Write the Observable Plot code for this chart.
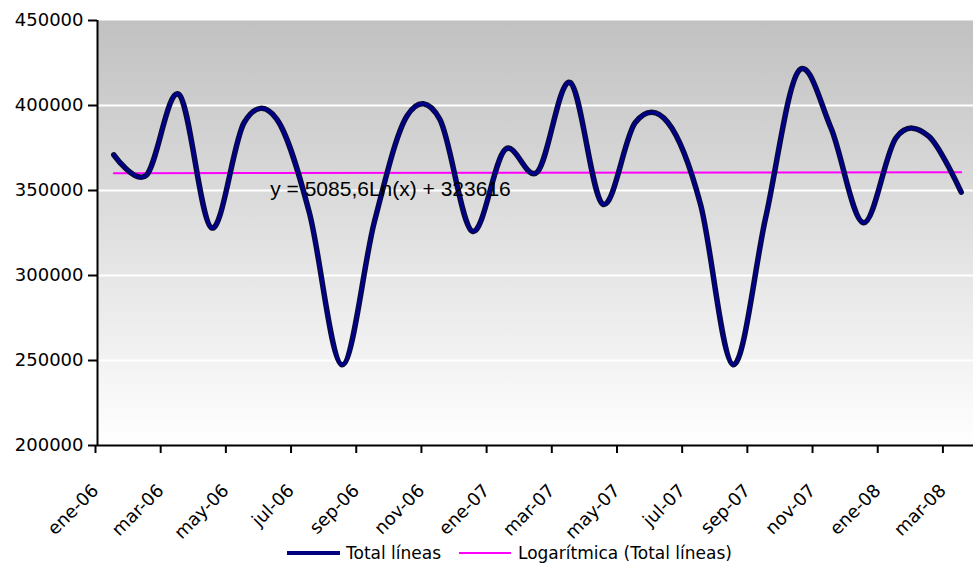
<!DOCTYPE html>
<html><head><meta charset="utf-8">
<script src="https://cdn.jsdelivr.net/npm/d3@7"></script>
<script src="https://cdn.jsdelivr.net/npm/@observablehq/plot@0.6"></script>
<style>
body{margin:0;background:#fff;font-family:"DejaVu Sans",sans-serif;}
#chart{position:relative;width:973px;height:572px;overflow:hidden}
#chart svg{display:block;overflow:visible}
.lg{position:absolute;font-size:17px;color:#000;line-height:20px;white-space:nowrap}
.sw{position:absolute}
</style></head><body>
<div id="chart"></div>
<script>
// ---- data ----
const months = ["ene-06","feb-06","mar-06","abr-06","may-06","jun-06","jul-06","ago-06","sep-06","oct-06","nov-06","dic-06",
  "ene-07","feb-07","mar-07","abr-07","may-07","jun-07","jul-07","ago-07","sep-07","oct-07","nov-07","dic-07",
  "ene-08","feb-08","mar-08"];
const totalLineas = [371000,359000,406500,328000,390000,392000,337000,247500,332000,394000,392000,326000,
  374000,361000,413500,342000,390000,390000,342000,247500,334000,420000,387000,331000,
  381000,382000,349000];
const trendValues = [360200, 360700]; // Logarítmica (Total líneas), first and last month
const tickLabels = ["ene-06","mar-06","may-06","jul-06","sep-06","nov-06","ene-07","mar-07","may-07","jul-07","sep-07","nov-07","ene-08","mar-08"];
const yTicks = [200000,250000,300000,350000,400000,450000];
const seriesNames = ["Total líneas","Logarítmica (Total líneas)"];
const equation = "y = 5085,6Ln(x) + 323616";

// ---- build ----
const data = months.map((m, i) => ({pos: i + 0.5, month: m, value: totalLineas[i]}));
const trend = [{pos: 0.5, value: trendValues[0]}, {pos: months.length - 0.5, value: trendValues[1]}];
const xTicks = tickLabels.map(t => months.indexOf(t));

const bgDefs = () => {
  const defs = d3.create("svg:defs");
  const g = defs.append("linearGradient").attr("id", "plotBg")
    .attr("x1", 0).attr("y1", 0).attr("x2", 0).attr("y2", 1);
  g.append("stop").attr("offset", "0%").attr("stop-color", "#c1c1c1");
  g.append("stop").attr("offset", "100%").attr("stop-color", "#ffffff");
  return defs.node();
};

const plot = Plot.plot({
  width: 973, height: 548,
  marginTop: 20, marginBottom: 103, marginLeft: 97, marginRight: -4,
  style: {fontFamily: "DejaVu Sans", fontSize: "18px", color: "#000", background: "transparent"},
  x: {type: "linear", domain: [0, months.length]},
  y: {domain: [200000, 450000]},
  marks: [
    bgDefs,
    Plot.frame({fill: "url(#plotBg)", stroke: null}),
    Plot.gridY(yTicks.slice(1, -1), {stroke: "#fff", strokeOpacity: 1, strokeWidth: 2}),
    Plot.axisY(yTicks, {tickSize: 9, tickPadding: 5, tickFormat: d => String(d), label: null, strokeWidth: 2, fontSize: 18}),
    Plot.axisX(xTicks, {tickSize: 8, tickPadding: 34, tickRotate: -45, tickFormat: d => months[d], label: null, strokeWidth: 2, fontSize: 18, dx: -2}),
    Plot.ruleX([0], {stroke: "#000", strokeWidth: 2}),
    Plot.ruleY([200000], {stroke: "#000", strokeWidth: 2}),
    Plot.line(trend, {x: "pos", y: "value", stroke: "#ff00ff", strokeWidth: 2}),
    Plot.line(data, {x: "pos", y: "value", curve: "cardinal", tension: 0, stroke: "#0a0a3a", strokeWidth: 5.5}),
    Plot.line(data, {x: "pos", y: "value", curve: "cardinal", tension: 0, stroke: "#000090", strokeWidth: 2.8}),
    Plot.text([equation], {x: 5.3, y: 351000, text: d => d, textAnchor: "start", fontFamily: "Liberation Sans, Arial", fontSize: 21, fill: "#000"})
  ]
});

const chart = document.getElementById("chart");
chart.appendChild(plot);

// legend (placed below the tick labels)
function add(html, css, cls) { const e = document.createElement("div"); e.className = cls; e.style.cssText = css; e.innerHTML = html; chart.appendChild(e); }
add("", "left:287px;top:551px;width:53px;height:4px;background:#000080", "sw");
add(seriesNames[0], "left:346px;top:543px", "lg");
add("", "left:459px;top:552px;width:52px;height:2px;background:#ff00ff", "sw");
add(seriesNames[1], "left:518px;top:543px", "lg");
</script>
</body></html>
